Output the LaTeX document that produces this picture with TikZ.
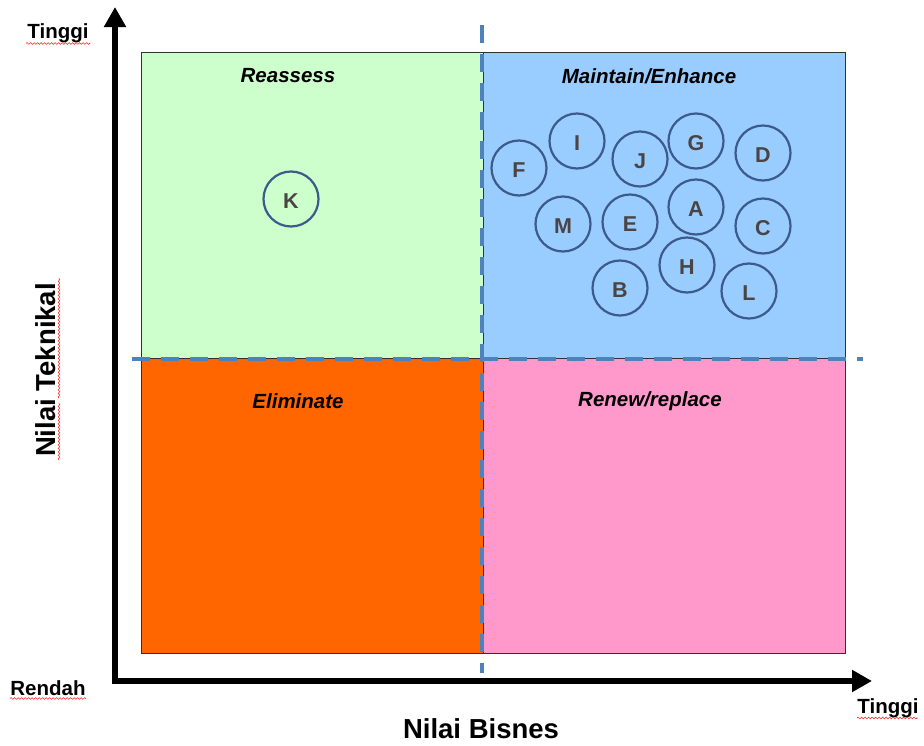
\documentclass[tikz,border=0pt]{standalone}
\usepackage{fontspec}
\setmainfont{Liberation Sans}
\usetikzlibrary{arrows.meta,decorations.pathmorphing}

\definecolor{qgreen}{HTML}{CCFFCC}
\definecolor{qblue}{HTML}{99CCFF}
\definecolor{qorange}{HTML}{FF6600}
\definecolor{qpink}{HTML}{FF99CC}
\definecolor{divider}{HTML}{4F81BD}
\definecolor{ringcol}{RGB}{60,90,140}
\definecolor{lettercol}{RGB}{75,68,68}
\definecolor{framecol}{RGB}{50,50,50}

\tikzset{
  quad/.style={draw=framecol, line width=1.2pt, rectangle, inner sep=0pt,
    minimum width=342pt, minimum height=306pt, anchor=north west},
  quadlabel/.style={font=\fontsize{20.5}{23}\selectfont\bfseries\itshape, inner sep=0pt},
  app/.style={circle, draw=ringcol, line width=2.2pt, minimum size=55pt, inner sep=0pt},
  applabel/.style={font=\fontsize{21.5}{24}\selectfont\bfseries, text=lettercol, inner sep=0pt},
  scale label/.style={font=\fontsize{20.5}{24}\selectfont\bfseries, inner sep=0pt},
  axis title/.style={font=\fontsize{27.5}{30}\selectfont\bfseries, inner sep=0pt},
  axisline/.style={line width=6.8pt, line join=miter,
    {Triangle[width=21pt,length=20pt]}-{Triangle[width=21pt,length=20pt]}},
  dividerline/.style={draw=divider, line width=4pt, dash pattern=on 18pt off 11pt},
  spellmark/.style={draw=red!85!white, line width=0.6pt, decorate,
    decoration={snake, segment length=3.5pt, amplitude=0.9pt}}
}

\begin{document}
\begin{tikzpicture}[x=1pt,y=-1pt]
\useasboundingbox (0,0) rectangle (924,745);

% four quadrants
\node[quad, fill=qgreen, minimum width=342pt, minimum height=306pt] (reassess) at (141,52) {};
\node[quad, fill=qblue, minimum width=362pt, minimum height=306pt] (maintain) at (483,52) {};
\node[quad, fill=qorange, minimum width=342pt, minimum height=295pt] (eliminate) at (141,358) {};
\node[quad, fill=qpink, minimum width=362pt, minimum height=295pt] (renew) at (483,358) {};

% quadrant titles
\node[quadlabel] (treassess) at (288,76) {Reassess};
\node[quadlabel] (tmaintain) at (649,76) {Maintain/Enhance};
\node[quadlabel] (teliminate) at (298,401) {Eliminate};
\node[quadlabel] (trenew) at (650,401) {Renew/replace};

% dashed dividers
\coordinate (vtop) at (481.5,25);
\coordinate (vbot) at (481.5,673);
\coordinate (hleft) at (132,358.5);
\coordinate (hright) at (863,358.5);
\draw[dividerline] (vtop) -- (vbot);
\draw[dividerline] (hleft) -- (hright);

% applications
\foreach \lbl/\px/\py in {K/291/199, F/519/168, I/577/141, J/640/159, G/696/141,
    D/763/153, M/563/224, E/630/222, A/696/207, C/763/226, H/687/265,
    B/620/288, L/749/291} {
  \node[app] (app\lbl) at (\px,\py) {};
  \node[applabel] (lab\lbl) at (\px,\py+2) {\lbl};
}

% axes
\coordinate (ytip) at (115,7);
\coordinate (origin) at (115,681);
\coordinate (xtip) at (872,681);
\draw[axisline] (ytip) -- (origin) -- (xtip);

% axis end labels
\node[scale label] (yhigh) at (58,33) {Tinggi};
\node[scale label] (ylow) at (48,688) {Rendah};
\node[scale label] (xhigh) at (888,708) {Tinggi};

% axis titles
\node[axis title] (xtitle) at (481,729) {Nilai Bisnes};
\node[axis title, rotate=90] (ytitle) at (46,370) {Nilai Teknikal};

% spell-check underlines
\draw[spellmark] (26,43.5) -- (90,43.5);
\draw[spellmark] (10,698.5) -- (86,698.5);
\draw[spellmark] (857,718) -- (918,718);
\draw[spellmark] (59,460) -- (59,403);
\draw[spellmark] (59,398) -- (59,278);
\end{tikzpicture}
\end{document}
